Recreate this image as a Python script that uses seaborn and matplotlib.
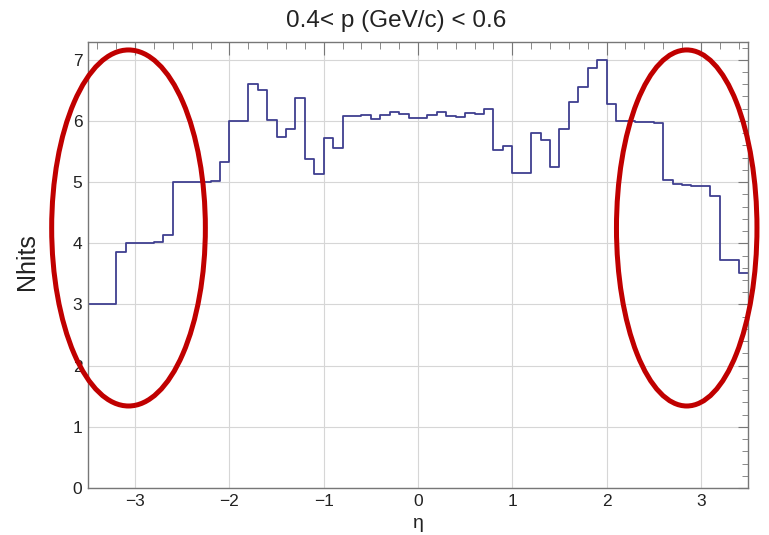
import numpy as np
import pandas as pd
import matplotlib
matplotlib.use('Agg')
import matplotlib.pyplot as plt
from matplotlib.patches import Ellipse
from matplotlib.ticker import MultipleLocator
import seaborn as sns

sns.set_style('white')
plt.rcParams['font.family'] = ['Liberation Sans', 'DejaVu Sans']

# histogram binning: 70 bins of 0.1 in eta
eta_edges = np.linspace(-3.5, 3.5, 71)
eta_centers = (eta_edges[:-1] + eta_edges[1:]) / 2

# mean number of hits per eta bin
nhits = [3.0, 3.0, 3.0, 3.86, 4.0, 4.0, 4.01, 4.02, 4.13,
         5.0, 5.0, 5.0, 5.0, 5.01, 5.33, 6.0, 6.0, 6.6, 6.5,
         6.02, 5.73, 5.86, 6.37, 5.38, 5.14, 5.72, 5.55,
         6.08, 6.08, 6.1, 6.03, 6.1, 6.15, 6.11, 6.05, 6.05,
         6.1, 6.15, 6.08, 6.07, 6.13, 6.11, 6.2,
         5.53, 5.59, 5.15, 5.15,
         5.81, 5.69, 5.24, 5.87, 6.31, 6.55, 6.86, 6.99, 6.28,
         6.0, 6.0, 5.99, 5.98, 5.97,
         5.04, 4.97, 4.96, 4.94, 4.93, 4.77,
         3.73, 3.72, 3.51]

title = '0.4< p (GeV/c) < 0.6'

df = pd.DataFrame({'eta': eta_centers, 'nhits': nhits})

fig = plt.figure(figsize=(7.69, 5.35), dpi=100)
ax = fig.add_axes([0.1144, 0.0879, 0.8583, 0.8336])

sns.histplot(data=df, x='eta', weights='nhits', bins=list(eta_edges),
             element='step', fill=False, color='#3f3f90',
             linewidth=1.3, ax=ax)

ax.set_xlim(-3.5, 3.5)
ax.set_ylim(0, 7.29)
ax.xaxis.set_major_locator(MultipleLocator(1))
ax.xaxis.set_minor_locator(MultipleLocator(0.2))
ax.yaxis.set_major_locator(MultipleLocator(1))
ax.yaxis.set_minor_locator(MultipleLocator(0.2))
ax.grid(True, which='major', color='#d6d6d6', linewidth=0.8)
ax.set_axisbelow(True)

ax.tick_params(which='both', direction='in', top=True, right=True,
               colors='#777777', labelcolor='#222222', labelsize=12.5)
ax.tick_params(axis='x', which='major', length=9, pad=4)
ax.tick_params(axis='x', which='minor', length=5)
ax.tick_params(axis='y', which='major', length=7, pad=4)
ax.tick_params(axis='y', which='minor', length=4)
for s in ax.spines.values():
    s.set_color('#777777')
    s.set_linewidth(1.0)

ax.set_xlabel('')
ax.set_ylabel('')
fig.text(418 / 769, 1 - 524 / 535, 'η', ha='center', va='center',
         fontsize=14, color='#222222')
fig.text(27 / 769, 1 - 262 / 535, 'Nhits', rotation=90, ha='center',
         va='center', fontsize=18, color='#222222')
fig.text(396 / 769, 1 - 21 / 535, title, ha='center', va='center',
         fontsize=17.5, color='#222222')

# red markup ellipses around the forward regions
for cx, w in [(-3.07, 1.63), (2.85, 1.49)]:
    ax.add_patch(Ellipse((cx, 4.25), w, 5.82, fill=False, zorder=5,
                         edgecolor='#c00000', linewidth=3.6, clip_on=False))

fig.savefig('out.png', dpi=100)
